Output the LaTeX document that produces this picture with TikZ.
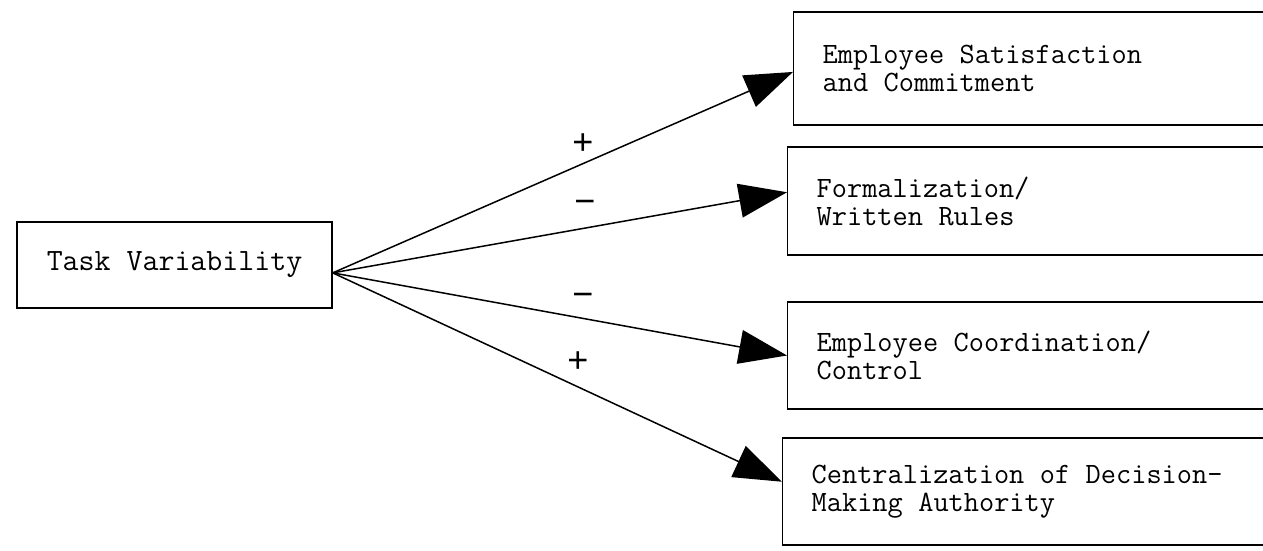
\documentclass[tikz,border=0pt]{standalone}
\usepackage{fontspec}
\newfontfamily\signfont{Liberation Sans}
\usetikzlibrary{arrows.meta,calc}
\newcommand\boxfont{\ttfamily\fontsize{29.5}{28}\selectfont
  \spaceskip=0.525em\relax\xspaceskip=0.525em\relax}
\begin{document}
\begin{tikzpicture}[x=1pt,y=-1pt,
  outcome/.style={draw, line width=1.4pt, anchor=west, align=left,
    font=\boxfont,
    minimum height=107pt, text width=480pt, inner xsep=29pt},
  cause/.style={draw, line width=1.4pt,
    font=\ttfamily\fontsize{31}{30}\selectfont,
    minimum width=315pt, minimum height=86pt},
  link/.style={line width=1.5pt, -{Triangle[length=48pt,width=34pt]}},
  sign/.style={font=\signfont\fontsize{36}{36}\selectfont, inner sep=0pt}]
\useasboundingbox (0,0) rectangle (1263,550);
\clip (0,0) rectangle (1263,550);

% source factor
\node[cause] (tv) at (174.5,265) {Task Variability};
\coordinate (o) at ($(tv.north east)!0.59!(tv.south east)$);

% outcome boxes (open to the right)
\node[outcome, minimum height=113pt] (b1) at (793,68.5) {\boxfont Employee Satisfaction\\\boxfont and Commitment};
\node[outcome, minimum height=108pt] (b2) at (787,201) {\boxfont Formalization/\\\boxfont Written Rules};
\node[outcome] (b3) at (787,355.5) {\boxfont Employee Coordination/\\\boxfont Control};
\node[outcome] (b4) at (782,491.5) {\boxfont Centralization of Decision-\\\boxfont Making Authority};

% relations
\draw[link] (o) -- ($(b1.north west)!0.53!(b1.south west)$);
\draw[link] (o) -- ($(b2.north west)!0.42!(b2.south west)$);
\draw[link] (o) -- ($(b3.north west)!0.50!(b3.south west)$);
\draw[link] (o) -- ($(b4.north west)!0.41!(b4.south west)$);

% signs of the relations
\node[sign] (s1) at (583,144) {+};
\node[sign] (s2) at (585,207) {−};
\node[sign] (s3) at (583,300) {−};
\node[sign] (s4) at (578,362) {+};
\end{tikzpicture}
\end{document}
